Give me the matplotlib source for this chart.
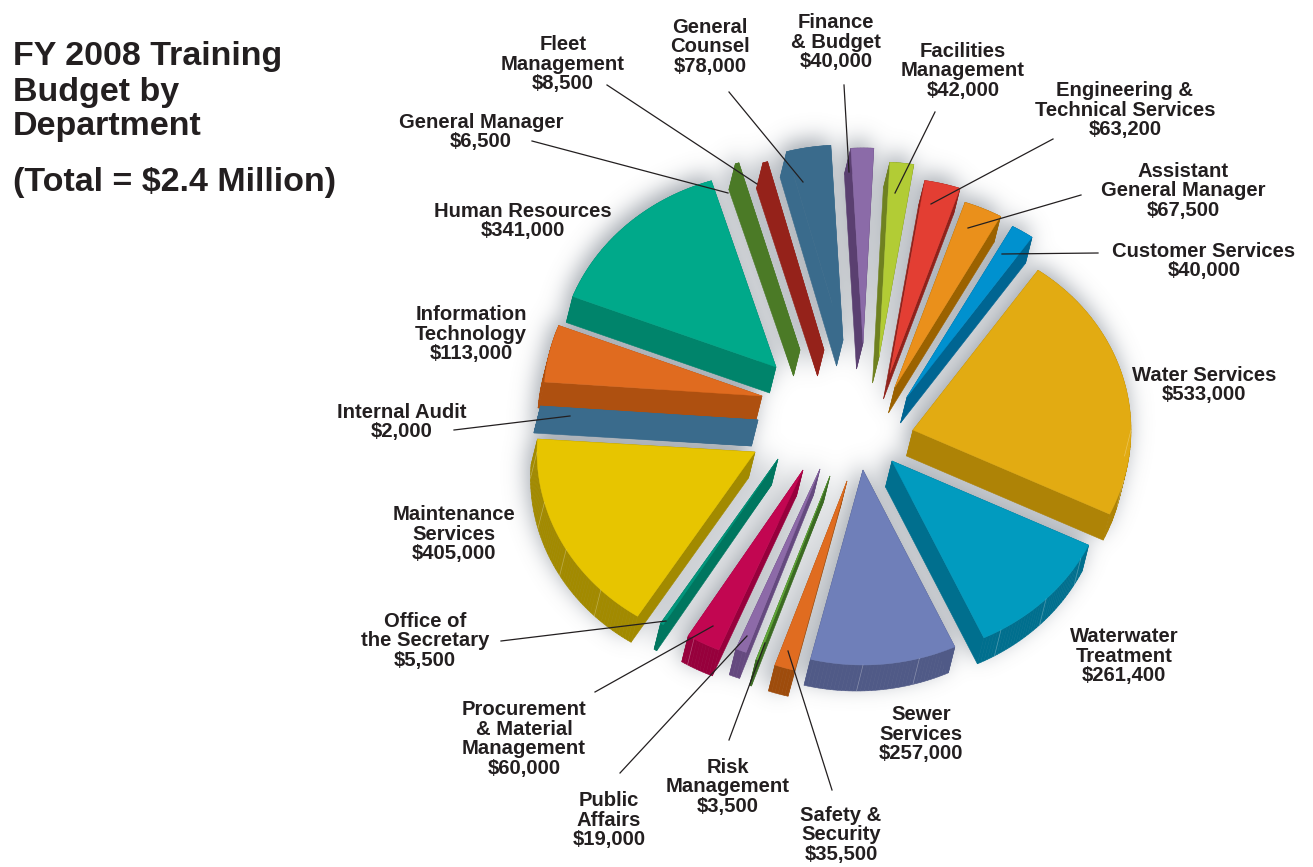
import numpy as np
import matplotlib
matplotlib.use("Agg")
import matplotlib.pyplot as plt

departments = ["Water Services", "Waterwater Treatment", "Sewer Services", "Safety & Security",
               "Risk Management", "Public Affairs", "Procurement & Material Management",
               "Office of the Secretary", "Maintenance Services", "Internal Audit",
               "Information Technology", "Human Resources", "General Manager", "Fleet Management",
               "General Counsel", "Finance & Budget", "Facilities Management",
               "Engineering & Technical Services", "Assistant General Manager", "Customer Services"]
budget = [533000, 261400, 257000, 35500, 3500, 19000, 60000, 5500, 405000, 2000,
          113000, 341000, 6500, 8500, 78000, 40000, 42000, 63200, 67500, 40000]

top_colors = ["#e2ab12", "#019bbf", "#6f7fb9", "#e06c20", "#62a83a", "#8d6aa8", "#c20651",
              "#02957c", "#e7c500", "#3a6b8c", "#e06b1f", "#00a98a", "#4b7a26", "#95221a",
              "#3a6b8c", "#8b6ba8", "#b2cc35", "#e33e33", "#ea901b", "#0091cf"]
wall_colors = ["#ae8306", "#006f8e", "#505a87", "#9e4c0c", "#3b6a22", "#65497f", "#97003c",
               "#00765f", "#a28a00", "#3a6b8c", "#ae5010", "#00846b", "#4b7a26", "#95221a",
               "#3a6b8c", "#5a3f70", "#6f8120", "#8f211a", "#9b6200", "#006592"]

# how far each slice is pulled out of the hub, in pixels
explode = [(81, 15), (60, 46), (31, 55), (15, 66), (-2, 61), (-12, 54), (-29, 55), (-54, 44),
           (-77, 37), (-74, 5), (-70, -19), (-56, -48), (-32, -65), (-8, -65), (11, -75),
           (31, -72), (47, -58), (58, -42), (63, -28), (75, -18)]

hub = (832, 415)
rx, ry = 218, 195
depth = (-6.5, 26)
start_angle = 35

labels = [
    ("Fleet\nManagement\n$8,500", 563, 64),
    ("General\nCounsel\n$78,000", 710, 47),
    ("Finance\n& Budget\n$40,000", 836, 42),
    ("Facilities\nManagement\n$42,000", 963, 71),
    ("Engineering &\nTechnical Services\n$63,200", 1125, 110),
    ("Assistant\nGeneral Manager\n$67,500", 1183, 191),
    ("Customer Services\n$40,000", 1204, 261),
    ("Water Services\n$533,000", 1204, 385),
    ("Waterwater\nTreatment\n$261,400", 1124, 656),
    ("Sewer\nServices\n$257,000", 921, 734),
    ("Safety &\nSecurity\n$35,500", 841, 835),
    ("Risk\nManagement\n$3,500", 728, 787),
    ("Public\nAffairs\n$19,000", 609, 820),
    ("Procurement\n& Material\nManagement\n$60,000", 524, 739),
    ("Office of\nthe Secretary\n$5,500", 425, 641),
    ("Maintenance\nServices\n$405,000", 454, 534),
    ("Internal Audit\n$2,000", 402, 422),
    ("Information\nTechnology\n$113,000", 471, 334),
    ("Human Resources\n$341,000", 523, 221),
    ("General Manager\n$6,500", 481, 132),
]

leaders = [
    ((532, 141), (728, 193)), ((607, 85), (757, 184)), ((729, 92), (803, 182)),
    ((844, 85), (849, 172)), ((935, 112), (895, 193)), ((1053, 139), (931, 204)),
    ((1081, 195), (968, 228)), ((1098, 253), (1002, 254)), ((454, 430), (570, 416)),
    ((501, 641), (666, 621)), ((595, 692), (713, 626)), ((620, 773), (747, 636)),
    ((729, 740), (765, 643)), ((788, 651), (832, 790)),
]


def slice_outline(i):
    # top face of one slice: tip first, then the rim, sweeping clockwise from 12 o'clock
    fractions = np.cumsum([0] + budget) / sum(budget)
    t0 = np.radians(start_angle + 360 * fractions[i])
    t1 = np.radians(start_angle + 360 * fractions[i + 1])
    t = np.linspace(t0, t1, max(3, int(np.degrees(t1 - t0)) + 2))
    tip_x = hub[0] + explode[i][0]
    tip_y = hub[1] + explode[i][1]
    return tip_x, tip_y, tip_x + rx * np.sin(t), tip_y - ry * np.cos(t), t


def draw_slices(ax, flat=False):
    order = sorted(range(len(budget)), key=lambda k: slice_outline(k)[3].mean())
    for i in order:
        tip_x, tip_y, rim_x, rim_y, t = slice_outline(i)
        xs = np.r_[tip_x, rim_x]
        ys = np.r_[tip_y, rim_y]
        wall = "black" if flat else wall_colors[i]
        top = "black" if flat else top_colors[i]

        # side walls are the outline swept along the depth vector
        for k in range(len(xs)):
            n = (k + 1) % len(xs)
            ax.fill([xs[k], xs[n], xs[n] + depth[0], xs[k] + depth[0]],
                    [ys[k], ys[n], ys[n] + depth[1], ys[k] + depth[1]],
                    color=wall, lw=0.4, zorder=2)
        ax.fill(xs, ys, color=top, lw=0.3, zorder=2)

        # pale seams on the curved wall
        if not flat:
            for seam in np.radians(np.arange(15, 360, 15)):
                if t[0] + 0.03 < seam < t[-1] - 0.03 and np.cos(seam) < 0.2:
                    sx = tip_x + rx * np.sin(seam)
                    sy = tip_y - ry * np.cos(seam)
                    ax.plot([sx, sx + depth[0]], [sy, sy + depth[1]],
                            color="white", lw=0.5, alpha=0.3, zorder=2)


def new_axes():
    fig = plt.figure(figsize=(13.13, 8.67), dpi=100)
    ax = fig.add_axes([0, 0, 1, 1])
    ax.set_xlim(0, 1313)
    ax.set_ylim(867, 0)
    ax.axis("off")
    return fig, ax


def soft_shadow():
    # silhouette of the pie, blurred through the FFT
    fig, ax = new_axes()
    draw_slices(ax, flat=True)
    fig.canvas.draw()
    mask = 1 - np.asarray(fig.canvas.buffer_rgba())[:, :, 0] / 255.0
    plt.close(fig)
    h, w = mask.shape
    fy = np.fft.fftfreq(h)[:, None]
    fx = np.fft.rfftfreq(w)[None, :]
    sigma = 11
    damp = np.exp(-2 * (np.pi * sigma) ** 2 * (fx ** 2 + fy ** 2))
    blurred = np.fft.irfft2(np.fft.rfft2(mask) * damp, s=mask.shape)
    return np.roll(blurred, (-7, -3), axis=(0, 1))


shadow = soft_shadow()
fig, ax = new_axes()

rgba = np.zeros(shadow.shape + (4,))
rgba[:, :, :3] = (0.40, 0.44, 0.49)
rgba[:, :, 3] = np.clip(shadow * 0.62, 0, 1)
ax.imshow(rgba, extent=(0, 1313, 867, 0), zorder=1, aspect="auto")
ax.set_xlim(0, 1313)
ax.set_ylim(867, 0)

draw_slices(ax)

for start, end in leaders:
    ax.plot([start[0], end[0]], [start[1], end[1]], color="#231f20", lw=0.9, zorder=3)

for text, x, y in labels:
    ax.text(x, y, text, ha="center", va="center", fontsize=14.6, color="#231f20",
            family="Liberation Sans", weight="bold", linespacing=1.06, zorder=4)

title_lines = [("FY 2008 Training", 57), ("Budget by", 92), ("Department", 127),
               ("(Total = $2.4 Million)", 182)]
for text, y in title_lines:
    ax.text(13, y, text, ha="left", va="center", fontsize=24.5, color="#231f20",
            family="Liberation Sans", weight="bold", zorder=4)

fig.savefig("out.png", dpi=100)
